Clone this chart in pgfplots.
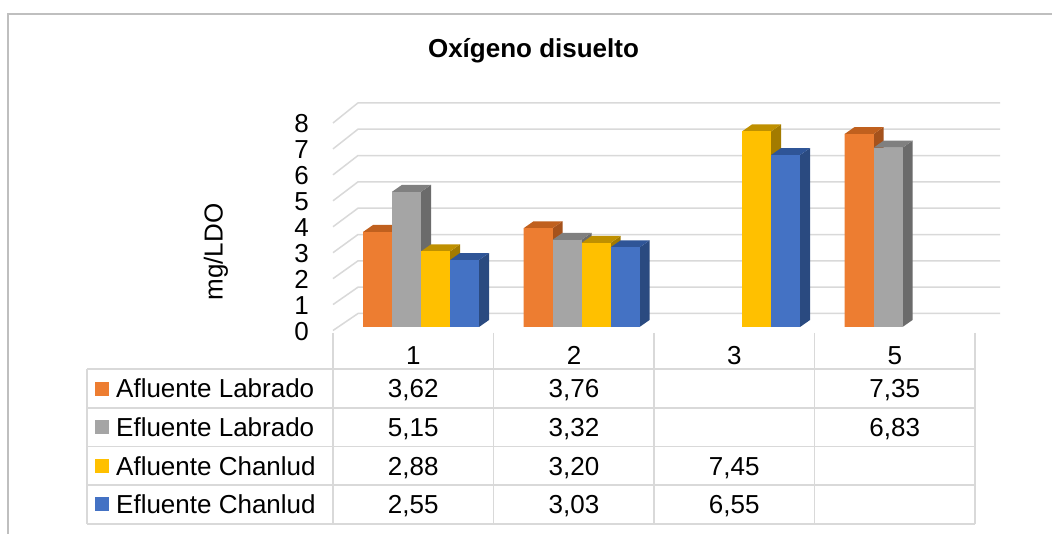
\documentclass[border=0pt]{standalone}
\usepackage{pgfplots}
\pgfplotsset{compat=1.18}
\usepackage{fontspec}
\setmainfont{Liberation Sans}

\definecolor{cOr}{HTML}{ED7D31}
\definecolor{cOrT}{HTML}{C0601E}
\definecolor{cOrS}{HTML}{A5521C}
\definecolor{cGy}{HTML}{A5A5A5}
\definecolor{cGyT}{HTML}{808080}
\definecolor{cGyS}{HTML}{6B6B6B}
\definecolor{cYe}{HTML}{FFC000}
\definecolor{cYeT}{HTML}{BF9000}
\definecolor{cYeS}{HTML}{A37B00}
\definecolor{cBl}{HTML}{4472C4}
\definecolor{cBlT}{HTML}{2F5597}
\definecolor{cBlS}{HTML}{2A4A80}
\definecolor{gridC}{HTML}{D9D9D9}
\definecolor{frameC}{HTML}{BFBFBF}

% a whole 3D bar, placed at the bar's top centre: side, top and front faces
\pgfdeclareplotmark{bar3d}{%
  \pgfsetfillcolor{\sc}%
  \pgfpathmoveto{\pgfpoint{\bsh bp+14.5bp}{0bp}}%
  \pgfpathlineto{\pgfpoint{\bsh bp+24.5bp}{7bp}}%
  \pgfpathlineto{\pgfpoint{\bsh bp+24.5bp}{7bp-26.25bp*\barv}}%
  \pgfpathlineto{\pgfpoint{\bsh bp+14.5bp}{-26.25bp*\barv}}%
  \pgfpathclose
  \pgfusepath{fill}%
  \pgfsetfillcolor{\tc}%
  \pgfpathmoveto{\pgfpoint{\bsh bp-14.5bp}{0bp}}%
  \pgfpathlineto{\pgfpoint{\bsh bp+14.5bp}{0bp}}%
  \pgfpathlineto{\pgfpoint{\bsh bp+24.5bp}{7bp}}%
  \pgfpathlineto{\pgfpoint{\bsh bp-4.5bp}{7bp}}%
  \pgfpathclose
  \pgfusepath{fill}%
  \pgfsetfillcolor{\fc}%
  \pgfpathrectanglecorners{\pgfpoint{\bsh bp-14.5bp}{0bp}}{\pgfpoint{\bsh bp+14.5bp}{-26.25bp*\barv}}%
  \pgfusepath{fill}}

\pgfplotstableread{
x y
0 3.62
1 3.76
3 7.35
}\afLab
\pgfplotstableread{
x y
0 5.15
1 3.32
3 6.83
}\efLab
\pgfplotstableread{
x y
0 2.88
1 3.20
2 7.45
}\afCha
\pgfplotstableread{
x y
0 2.55
1 3.03
2 6.55
}\efCha

\begin{document}
\begin{tikzpicture}
\begin{scope}[x=1bp,y=-1bp]
  \useasboundingbox (0,0) rectangle (1052,534);
  \fill[white] (0,0) rectangle (1052,534);
  \draw[line width=1.5bp, frameC] (8,534) -- (8,14) -- (1052,14);
  \foreach \v in {0,...,8}{
    \draw[gridC, line width=1.5bp] (333,{330.5-25.94*\v}) -- (358,{313.5-26.33*\v}) -- (1000,{313.5-26.33*\v});
  }
\end{scope}

\begin{axis}[at={(0,0)}, anchor=north west, hide axis, clip=false,
  x=160.5bp, y=26.25bp,
  xmin=-2.57477, xmax=3.97975, ymin=-7.88571, ymax=12.45714,
  bar3dstyle/.style n args={4}{only marks, mark=bar3d, mark options={draw=none},
    visualization depends on={rawy \as \barv},
    visualization depends on={value #1 \as \bsh},
    visualization depends on={value #2 \as \fc},
    visualization depends on={value #3 \as \tc},
    visualization depends on={value #4 \as \sc}}]
  % front faces as pgfplots bars
  \addplot[ybar, bar width=29bp, bar shift=-35.75bp, fill=cOr, draw=none] table {\afLab};
  \addplot[ybar, bar width=29bp, bar shift=-6.75bp, fill=cGy, draw=none] table {\efLab};
  \addplot[ybar, bar width=29bp, bar shift=22.25bp, fill=cYe, draw=none] table {\afCha};
  \addplot[ybar, bar width=29bp, bar shift=51.25bp, fill=cBl, draw=none] table {\efCha};
  % 3D shading (side, top, front) in left-to-right order
  \addplot[bar3dstyle={-35.75}{cOr}{cOrT}{cOrS}] table {\afLab};
  \addplot[bar3dstyle={-6.75}{cGy}{cGyT}{cGyS}] table {\efLab};
  \addplot[bar3dstyle={22.25}{cYe}{cYeT}{cYeS}] table {\afCha};
  \addplot[bar3dstyle={51.25}{cBl}{cBlT}{cBlS}] table {\efCha};
\end{axis}

\begin{scope}[x=1bp,y=-1bp, every node/.style={inner sep=0pt, font=\fontsize{26bp}{31bp}\selectfont}]
  % title
  \node[anchor=base, font=\fontsize{26bp}{31bp}\selectfont\bfseries] at (533.5,57.5) {Oxígeno disuelto};
  % y label
  \node[anchor=base, rotate=90] at (222.5,252) {mg/LDO};
  % y tick labels
  \foreach \v in {0,...,8}{
    \node[anchor=east] at (309,{331.5-25.94*\v}) {\v};
  }
  % table lines
  \foreach \xx in {333,493.5,654,814.5,975}{
    \draw[gridC, line width=1.5bp] (\xx,333) -- (\xx,524);
  }
  \draw[gridC, line width=1.5bp] (87,369) -- (87,524);
  \foreach \yy in {369,408,446.5,485,524}{
    \draw[gridC, line width=1.5bp] (87,\yy) -- (975,\yy);
  }
  % header
  \node[anchor=base] at (413.25,365) {1};
  \node[anchor=base] at (574,365) {2};
  \node[anchor=base] at (734.25,365) {3};
  \node[anchor=base] at (894.75,365) {5};
  % legend keys and names
  \fill[cOr] (95,381.5) rectangle (109,395.5);
  \fill[cGy] (95,420.3) rectangle (109,434.3);
  \fill[cYe] (95,458.8) rectangle (109,472.8);
  \fill[cBl] (95,497.3) rectangle (109,511.3);
  \node[anchor=base west] at (116,397.8) {Afluente Labrado};
  \node[anchor=base west] at (116,436.6) {Efluente Labrado};
  \node[anchor=base west] at (116,475.1) {Afluente Chanlud};
  \node[anchor=base west] at (116,513.6) {Efluente Chanlud};
  % values
  \node[anchor=base] at (413.25,397.8) {3,62};
  \node[anchor=base] at (574,397.8) {3,76};
  \node[anchor=base] at (894.75,397.8) {7,35};
  \node[anchor=base] at (413.25,436.6) {5,15};
  \node[anchor=base] at (574,436.6) {3,32};
  \node[anchor=base] at (894.75,436.6) {6,83};
  \node[anchor=base] at (413.25,475.1) {2,88};
  \node[anchor=base] at (574,475.1) {3,20};
  \node[anchor=base] at (734.25,475.1) {7,45};
  \node[anchor=base] at (413.25,513.6) {2,55};
  \node[anchor=base] at (574,513.6) {3,03};
  \node[anchor=base] at (734.25,513.6) {6,55};
\end{scope}
\end{tikzpicture}
\end{document}
